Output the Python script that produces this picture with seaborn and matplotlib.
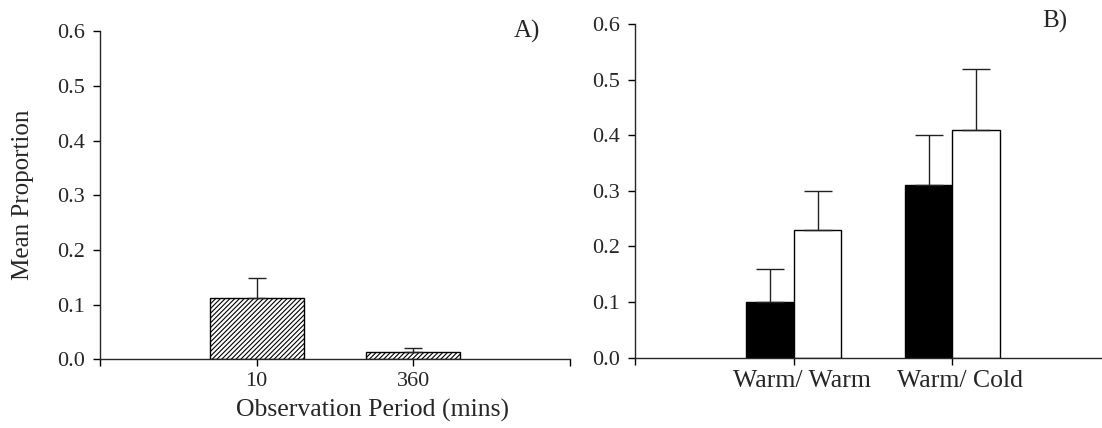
import matplotlib
matplotlib.use("Agg")
import matplotlib.pyplot as plt
from matplotlib.transforms import ScaledTranslation
import seaborn as sns
import pandas as pd

# ---- data ----
periods = ["10", "360"]
period_means = [0.113, 0.013]
period_errs = [0.036, 0.008]

conditions = ["Warm/ Warm", "Warm/ Cold"]
groups = ["Group 1", "Group 2"]
group1_means = [0.10, 0.31]
group2_means = [0.23, 0.41]
group1_errs = [0.06, 0.09]
group2_errs = [0.07, 0.11]

yticks = [0.0, 0.1, 0.2, 0.3, 0.4, 0.5, 0.6]

sns.set_style("ticks")
plt.rcParams["font.family"] = ["Liberation Serif", "DejaVu Serif"]
plt.rcParams["hatch.linewidth"] = 0.8
plt.rcParams["axes.linewidth"] = 1.0

fig = plt.figure(figsize=(11.02, 4.28), dpi=100)
axA = fig.add_axes([0.0907, 0.1605, 0.4265, 0.7664])
axB = fig.add_axes([0.5765, 0.1647, 0.4317, 0.779])

# ---- Panel A ----
dfA = pd.DataFrame({"period": periods, "mean": period_means})
sns.barplot(data=dfA, x="period", y="mean", color="white", saturation=1,
            edgecolor="black", linewidth=1, width=0.6, hatch="///////",
            errorbar=None, ax=axA)
for bar, err in zip(axA.containers[0], period_errs):
    x = bar.get_x() + bar.get_width() / 2
    h = bar.get_height()
    axA.errorbar(x, h, yerr=[[0], [err]], fmt="none", ecolor="#222222",
                 elinewidth=1, capsize=6.5, capthick=1)

# ---- Panel B ----
dfB = pd.DataFrame({
    "condition": conditions * 2,
    "group": [groups[0]] * 2 + [groups[1]] * 2,
    "mean": group1_means + group2_means,
})
sns.barplot(data=dfB, x="condition", y="mean", hue="group", hue_order=groups,
            palette=["black", "white"], saturation=1, edgecolor="black",
            linewidth=1, width=0.6, gap=0, errorbar=None, legend=False, ax=axB)
for cont, errs in zip(axB.containers, [group1_errs, group2_errs]):
    for bar, err in zip(cont, errs):
        x = bar.get_x() + bar.get_width() / 2
        h = bar.get_height()
        axB.errorbar(x, h, yerr=[[0], [err]], fmt="none", ecolor="#222222",
                     elinewidth=1, capsize=10, capthick=1)

for ax, labels, xfs in [(axA, periods, 16), (axB, conditions, 18.5)]:
    ax.set_xlim(-1, 2)
    ax.set_ylim(0, 0.6)
    ax.set_yticks(yticks)
    ax.set_yticklabels([f"{v:.1f}" for v in yticks], fontsize=16)
    ax.set_xticks([-1, 0, 1, 2])
    ax.set_xticklabels([""] + labels + [""], fontsize=xfs)
    ax.tick_params(axis="both", direction="out", length=5, width=1, color="black")
    ax.tick_params(axis="y", pad=6)
    ax.tick_params(axis="x", pad=4)
    sns.despine(ax=ax)
    ax.set_xlabel("")
    ax.set_ylabel("")

# the category labels in panel B sit slightly right of their ticks
for lab in axB.get_xticklabels():
    lab.set_transform(lab.get_transform() + ScaledTranslation(8 / 100, 0, fig.dpi_scale_trans))

axA.set_ylabel("Mean Proportion", fontsize=18)
axA.yaxis.set_label_coords(-0.164, 0.5)
axA.yaxis.label.set_verticalalignment("center")
axA.set_xlabel("Observation Period (mins)", fontsize=18.5)
axA.xaxis.set_label_coords(0.579, -0.155)
axA.xaxis.label.set_verticalalignment("center")

axA.text(0.881, 1.0, "A)", transform=axA.transAxes, ha="left", va="center", fontsize=18)
axB.text(0.855, 1.007, "B)", transform=axB.transAxes, ha="left", va="center", fontsize=18)

fig.savefig("out.png", dpi=100)
